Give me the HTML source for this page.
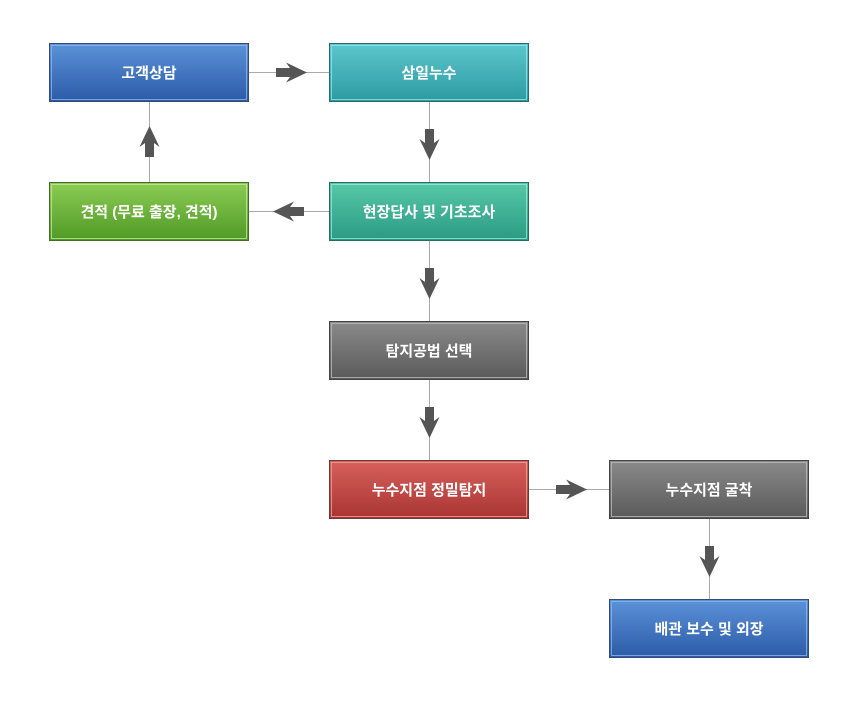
<!DOCTYPE html>
<html><head><meta charset="utf-8"><style>
html,body{margin:0;padding:0;background:#fff;width:862px;height:710px;overflow:hidden}
svg text{font-family:"Liberation Sans","Noto Sans CJK KR",sans-serif;font-weight:bold;font-size:15px;fill:#fff;text-anchor:middle}
</style></head><body>
<svg width="862" height="710" viewBox="0 0 862 710" xmlns="http://www.w3.org/2000/svg">
<defs>
<linearGradient id="gb" x1="0" y1="0" x2="0" y2="1"><stop offset="0" stop-color="#5b93d8"/><stop offset="1" stop-color="#2c5aa8"/></linearGradient>
<linearGradient id="gt" x1="0" y1="0" x2="0" y2="1"><stop offset="0" stop-color="#5cc7cc"/><stop offset="1" stop-color="#2d9aa2"/></linearGradient>
<linearGradient id="gs" x1="0" y1="0" x2="0" y2="1"><stop offset="0" stop-color="#58c8a8"/><stop offset="1" stop-color="#2a9a84"/></linearGradient>
<linearGradient id="gg" x1="0" y1="0" x2="0" y2="1"><stop offset="0" stop-color="#8ccc55"/><stop offset="1" stop-color="#4f9a25"/></linearGradient>
<linearGradient id="gy" x1="0" y1="0" x2="0" y2="1"><stop offset="0" stop-color="#8a8a8a"/><stop offset="1" stop-color="#5a5a5a"/></linearGradient>
<linearGradient id="gr" x1="0" y1="0" x2="0" y2="1"><stop offset="0" stop-color="#d8605c"/><stop offset="1" stop-color="#a83532"/></linearGradient>
<path id="ar" d="M-15,-4.5 H-1 L-5,-10 L16,0 L-5,10 L-1,4.5 H-15 Z" fill="#555"/>
</defs>
<g stroke="#aaa" stroke-width="1" fill="none">
<line x1="248" y1="72.5" x2="329" y2="72.5"/>
<line x1="429.5" y1="101" x2="429.5" y2="182"/>
<line x1="248" y1="211.5" x2="329" y2="211.5"/>
<line x1="149.5" y1="101" x2="149.5" y2="182"/>
<line x1="429.5" y1="240" x2="429.5" y2="321"/>
<line x1="429.5" y1="379" x2="429.5" y2="460"/>
<line x1="528" y1="489.5" x2="609" y2="489.5"/>
<line x1="709.5" y1="518" x2="709.5" y2="599"/>
</g>
<use href="#ar" transform="translate(291,72.5)"/>
<use href="#ar" transform="translate(429.5,144) rotate(90)"/>
<use href="#ar" transform="translate(289,211.5) rotate(180)"/>
<use href="#ar" transform="translate(149.5,142) rotate(-90)"/>
<use href="#ar" transform="translate(429.5,283) rotate(90)"/>
<use href="#ar" transform="translate(429.5,422) rotate(90)"/>
<use href="#ar" transform="translate(571,489.5)"/>
<use href="#ar" transform="translate(709.5,561) rotate(90)"/>
<g>
<rect x="49.5" y="43.5" width="199" height="58" fill="url(#gb)" stroke="#3a4a6a"/><rect x="51.5" y="45.5" width="195" height="54" fill="none" stroke="#8ab8f0" stroke-opacity=".8"/>
<text x="149" y="78">고객상담</text>
<rect x="329.5" y="43.5" width="199" height="58" fill="url(#gt)" stroke="#2d6a70"/><rect x="331.5" y="45.5" width="195" height="54" fill="none" stroke="#8ee8ec" stroke-opacity=".8"/>
<text x="429" y="78">삼일누수</text>
<rect x="49.5" y="182.5" width="199" height="58" fill="url(#gg)" stroke="#4a6a2a"/><rect x="51.5" y="184.5" width="195" height="54" fill="none" stroke="#bfe89a" stroke-opacity=".8"/>
<text x="149" y="217">견적 (무료 출장, 견적)</text>
<rect x="329.5" y="182.5" width="199" height="58" fill="url(#gs)" stroke="#2d6a60"/><rect x="331.5" y="184.5" width="195" height="54" fill="none" stroke="#8eecd4" stroke-opacity=".8"/>
<text x="429" y="217">현장답사 및 기초조사</text>
<rect x="329.5" y="321.5" width="199" height="58" fill="url(#gy)" stroke="#444"/><rect x="331.5" y="323.5" width="195" height="54" fill="none" stroke="#bbb" stroke-opacity=".8"/>
<text x="429" y="356">탐지공법 선택</text>
<rect x="329.5" y="460.5" width="199" height="58" fill="url(#gr)" stroke="#6a3a3a"/><rect x="331.5" y="462.5" width="195" height="54" fill="none" stroke="#f0a09a" stroke-opacity=".8"/>
<text x="429" y="495">누수지점 정밀탐지</text>
<rect x="609.5" y="460.5" width="199" height="58" fill="url(#gy)" stroke="#444"/><rect x="611.5" y="462.5" width="195" height="54" fill="none" stroke="#bbb" stroke-opacity=".8"/>
<text x="709" y="495">누수지점 굴착</text>
<rect x="609.5" y="599.5" width="199" height="58" fill="url(#gb)" stroke="#3a4a6a"/><rect x="611.5" y="601.5" width="195" height="54" fill="none" stroke="#8ab8f0" stroke-opacity=".8"/>
<text x="709" y="634">배관 보수 및 외장</text>
</g>
</svg>
</body></html>
